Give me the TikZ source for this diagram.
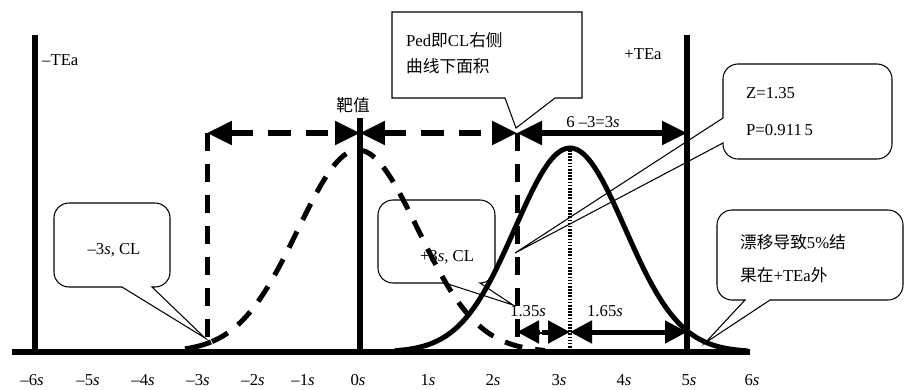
\documentclass[tikz,border=0pt]{standalone}
\usepackage{fontspec}
\setmainfont{Liberation Serif}
\newfontfamily\cjk{Noto Sans CJK SC}
\usetikzlibrary{arrows.meta}

\begin{document}
\begin{tikzpicture}[x=0.02cm,y=-0.02cm,font=\fontsize{9.5}{14.7}\selectfont,
  solidline/.style={line width=0.11cm},
  dashline/.style={line width=0.1cm,dash pattern=on 0.36cm off 0.26cm},
  balloon/.style={line width=0.6pt},
  bigtips/.style={{Triangle[length=0.5cm,width=0.46cm]}-{Triangle[length=0.5cm,width=0.46cm]}},
  smalltips/.style={{Triangle[length=0.44cm,width=0.44cm]}-{Triangle[length=0.44cm,width=0.44cm]}}]
\useasboundingbox (0,0) rectangle (906,389);

% limits and target
\draw[solidline] (35,35) -- (35,352);
\draw[solidline] (360,118) -- (360,352);
\draw[solidline] (687,35) -- (687,352);
\node[anchor=west] (tealeft) at (36,60) {--TEa};
\node (tearight) at (643,54) {+TEa};
\node (target) at (353,105) {\cjk 靶值};

% control limits
\draw[dashline] (207,133) -- (207,352);
\draw[dashline] (517,133) -- (517,352);
\draw[line width=0.065cm,dash pattern=on 0.9pt off 0.9pt] (570,150) -- (570,352);

% curves
\draw[dashline] plot[domain=212:545,samples=90,smooth] (\x,{352-202*exp(-((\x-358)/60)*((\x-358)/60)/2)});
\draw[line width=0.1cm] plot[domain=185:211,samples=10,smooth] (\x,{352-202*exp(-((\x-358)/60)*((\x-358)/60)/2)});
\draw[line width=0.1cm] plot[domain=395:748,samples=100,smooth] (\x,{352-204*exp(-((\x-570)/55)*((\x-570)/55)/2)});
\draw[line width=0.13cm] (12,352) -- (750,352);

% distances
\coordinate (m3top) at (207,133);
\coordinate (zerotop) at (360,133);
\coordinate (p3top) at (517,133);
\coordinate (teatop) at (687,133);
\draw[dashline,line width=0.11cm,dash pattern=on 0.45cm off 0.3cm,bigtips] (m3top) -- (zerotop);
\draw[dashline,line width=0.11cm,dash pattern=on 0.45cm off 0.3cm,bigtips] (zerotop) -- (p3top);
\draw[solidline,bigtips] (p3top) -- (teatop);
\node (diff) at (593,122) {6 --3=3\textit{s}};

\coordinate (p3low) at (517,332);
\coordinate (meanlow) at (570,332);
\coordinate (tealow) at (687,332);
\draw[line width=0.1cm,smalltips] (p3low) -- (meanlow);
\draw[line width=0.1cm,smalltips] (meanlow) -- (tealow);
\draw[white,line width=0.05cm,dash pattern=on 2pt off 1pt] (541,318) -- (541,346);
\node (zdist) at (528,311) {1.35\textit{s}};
\node (restdist) at (605,311) {1.65\textit{s}};

% callouts
\coordinate (pedtip) at (516,128);
\draw[balloon] (392,12) -- (582,12) -- (582,98) -- (555,98) -- (pedtip) -- (505,98) -- (392,98) -- cycle;
\node[anchor=west,align=left] (pedtext) at (400,53) {Ped{\cjk 即}CL{\cjk 右侧}\\{\cjk 曲线下面积}};

\coordinate (ztip) at (515,253);
\draw[balloon,rounded corners=0.3cm] (800,64) -- (892,64) -- (892,159) -- (723,159)
  [sharp corners] -- (723,143) -- (ztip) -- (723,118) [rounded corners=0.3cm] -- (723,64) -- cycle;
\node[anchor=west] (zval) at (740,93) {Z=1.35};
\node[anchor=west] (pval) at (740,130) {P=0.911\,5};

\coordinate (drifttip) at (705,343);
\draw[balloon,rounded corners=0.3cm] (717,255) -- (717,210) -- (903,210) -- (903,300)
  [sharp corners] -- (770,300) -- (drifttip) -- (745,300) [rounded corners=0.3cm] -- (717,300) -- cycle;
\node[anchor=west] (drift1) at (734,242) {{\cjk 漂移导致}5\%{\cjk 结}};
\node[anchor=west] (drift2) at (734,275) {{\cjk 果在}+TEa{\cjk 外}};

\coordinate (lowtip) at (205,338);
\draw[balloon,rounded corners=0.3cm] (54,245) -- (54,203) -- (170,203) -- (170,287)
  [sharp corners] -- (152,287) -- (lowtip) -- (122,287) [rounded corners=0.3cm] -- (54,287) -- cycle;
\node (lowtext) at (114,250) {--3\textit{s}, CL};

\coordinate (hightip) at (513,305);
\draw[balloon,rounded corners=0.3cm] (378,240) -- (378,200) -- (495,200) -- (495,283)
  [sharp corners] -- (480,283) -- (hightip) -- (445,283) [rounded corners=0.3cm] -- (378,283) -- cycle;
\node (hightext) at (447,257) {+3\textit{s}, CL};

% axis labels
\foreach \pos/\lab in {32/--6,88/--5,143/--4,198/--3,253/--2,303/--1,358/0,428/1,493/2,559/3,624/4,689/5,752/6}
  \node (tick\pos) at (\pos,380) {\lab\textit{s}};
\end{tikzpicture}
\end{document}
